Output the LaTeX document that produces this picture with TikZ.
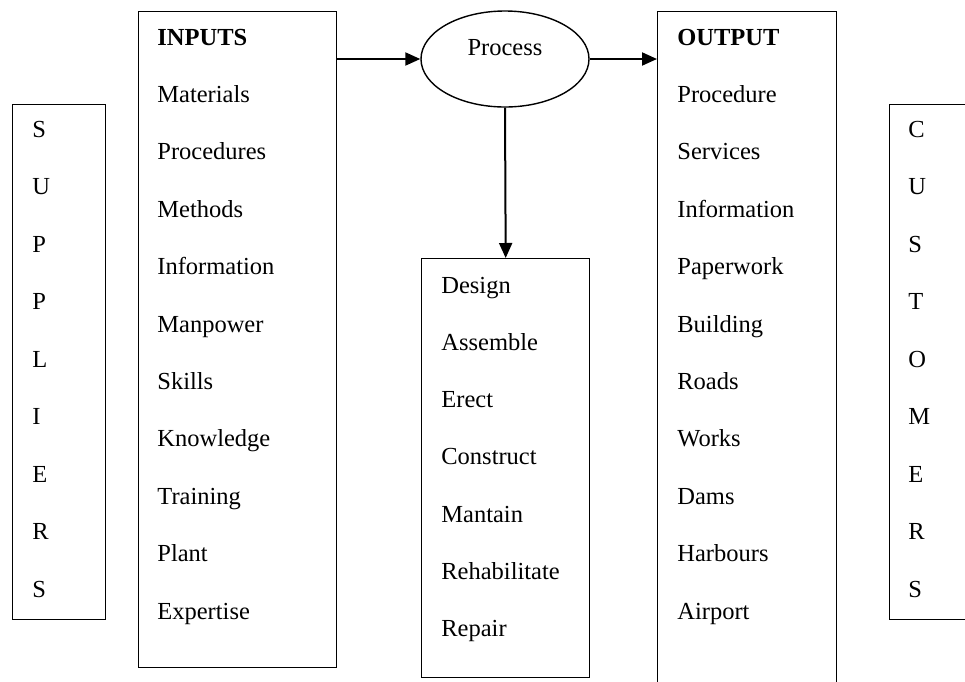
\documentclass[tikz,border=0pt]{standalone}
\usepackage{fontspec}
\setmainfont{Liberation Serif}
\usetikzlibrary{arrows.meta,shapes.geometric}
\newcommand{\Px}{0.5pt}
\newcommand{\Gap}{57.4}
\definecolor{ink}{HTML}{000000}

\tikzset{
  box/.style={draw=ink, rectangle, line width=0.7pt, anchor=north west, inner sep=0pt},
  item/.style={anchor=base west, inner sep=0pt, text=ink},
  procshape/.style={ellipse, draw=ink, line width=0.7pt, minimum width=84pt, minimum height=48pt, inner sep=0pt},
  flow/.style={draw=ink, line width=1pt, -{Triangle[length=7.5pt,width=6.5pt]}},
}

\begin{document}
\begin{tikzpicture}[x=\Px,y=-\Px, font=\fontsize{12.25}{14}\selectfont]

  \useasboundingbox (0,0) rectangle (965,681);
  \clip (0,0) rectangle (965,681);

  % ---- the frames: suppliers, inputs, activities, output, customers ------
  \node[box, minimum width=46.5pt, minimum height=257.5pt] (supbox)  at (12,104)  {};
  \node[box, minimum width=99pt,   minimum height=328pt]   (inbox)   at (138,11)  {};
  \node[box, minimum width=84pt,   minimum height=209.5pt] (midbox)  at (421,258) {};
  \node[box, minimum width=89.5pt, minimum height=345pt]   (outbox)  at (657,11)  {};
  \node[box, minimum width=50pt,   minimum height=257.5pt] (custbox) at (889,104) {};

  % ---- the process in the middle --------------------------------------
  \node[procshape] (proc) at (505,59) {\raisebox{2pt}[0pt][0pt]{Process}};

  % ---- arrows in and out of the process -------------------------------
  \draw[flow] (inbox.east |- proc.west) -- (proc.west);
  \draw[flow] (proc.east) -- (outbox.west |- proc.east);
  \draw[flow] (proc.south) -- (midbox.north);

  % ---- side words, one letter to a line -------------------------------
  \foreach \ch [count=\k from 0] in {S,U,P,P,L,I,E,R,S}
    \node[item] (sup\k) at (32,{137+\k*57.5}) {\ch};
  \foreach \ch [count=\k from 0] in {C,U,S,T,O,M,E,R,S}
    \node[item] (cust\k) at (908,{137+\k*57.5}) {\ch};

  % ---- inputs ----------------------------------------------------------
  \node[item] (inhead) at (157,45) {\textbf{INPUTS}};
  \foreach \word [count=\k] in {Materials,Procedures,Methods,Information,Manpower,
                                Skills,Knowledge,Training,Plant,Expertise}
    \node[item] (in\k) at (157,{45+\k*\Gap}) {\word};

  % ---- what the process does -------------------------------------------
  \foreach \word [count=\k from 0] in {Design,Assemble,Erect,Construct,Mantain,
                                       Rehabilitate,Repair}
    \node[item] (mid\k) at (441,{293+\k*57.3}) {\word};

  % ---- output ----------------------------------------------------------
  \node[item] (outhead) at (677,45) {\textbf{OUTPUT}};
  \foreach \word [count=\k] in {Procedure,Services,Information,Paperwork,Building,
                                Roads,Works,Dams,Harbours,Airport}
    \node[item] (out\k) at (677,{45+\k*\Gap}) {\word};

\end{tikzpicture}
\end{document}
